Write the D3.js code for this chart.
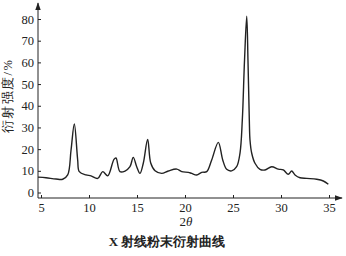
<!DOCTYPE html>
<html>
<head>
<meta charset="utf-8">
<script src="https://cdn.jsdelivr.net/npm/d3@7"></script>
<style>
  body { margin: 0; background: #fff; }
  svg text { font-family: 'Liberation Serif', 'DejaVu Serif', serif; fill: #222; }
</style>
</head>
<body>
<div id="chart"></div>
<script>
// 2θ positions and intensity (%)
const twoTheta = [4.69, 5.52, 6.56, 7.26, 7.78, 8.13, 8.47, 8.82, 8.99, 9.69,
  10.21, 10.91, 11.43, 11.95, 12.6, 12.81, 13.23, 13.75, 14.27, 14.61,
  14.97, 15.31, 15.66, 16.11, 16.43, 16.88, 17.57, 18.26, 19.14, 19.66,
  20.34, 20.7, 21.22, 21.74, 22.26, 22.78, 23.47, 23.93, 24.34, 24.86,
  25.38, 25.73, 25.97, 26.2, 26.43, 26.56, 26.7, 26.77, 26.95, 27.29,
  27.81, 28.33, 29.03, 29.72, 30.24, 30.76, 31.11, 31.46, 31.98, 32.68,
  33.72, 34.41, 34.93];
const intensity = [7.1, 6.8, 6.2, 6.1, 8.1, 19.6, 31.6, 15.0, 9.6, 8.1,
  7.7, 6.5, 9.6, 7.7, 15.3, 15.9, 9.6, 9.9, 11.9, 16.2,
  11.9, 8.8, 13.6, 24.5, 13.6, 10.0, 8.8, 9.9, 10.8, 9.6,
  9.3, 8.8, 8.1, 9.3, 9.6, 15.0, 23.1, 15.0, 10.7, 10.0,
  11.9, 18.2, 33.4, 61, 81.3, 61, 33.4, 24.2, 18.1, 13.5,
  10.7, 10.4, 11.9, 10.8, 10.4, 8.4, 9.9, 8.1, 6.8, 6.5,
  6.1, 5.3, 3.8];
const xTicks = [5, 10, 15, 20, 25, 30, 35];
const yTicks = [0, 10, 20, 30, 40, 50, 60, 70, 80];

const W = 346, H = 256;
const axisX = 38, axisY = 198;

const svg = d3.select('#chart').append('svg')
  .attr('width', W).attr('height', H);

const x = d3.scaleLinear().domain([5, 35]).range([41, 329]);
const y = d3.scaleLinear().domain([0, 80]).range([192.5, 19]);

const data = twoTheta.map((t, i) => ({ t, v: intensity[i] }));

// axis lines with arrows
svg.append('defs').append('marker')
  .attr('id', 'arr')
  .attr('viewBox', '0 0 10 10')
  .attr('refX', 9).attr('refY', 5)
  .attr('markerWidth', 8).attr('markerHeight', 8)
  .attr('markerUnits', 'userSpaceOnUse')
  .attr('orient', 'auto')
  .append('path').attr('d', 'M0,1.5 L10,5 L0,8.5 Z').attr('fill', '#222');

svg.append('line')
  .attr('x1', axisX).attr('y1', axisY).attr('x2', axisX).attr('y2', 3)
  .attr('stroke', '#222').attr('stroke-width', 1)
  .attr('marker-end', 'url(#arr)');
svg.append('line')
  .attr('x1', axisX).attr('y1', axisY).attr('x2', 342).attr('y2', axisY)
  .attr('stroke', '#222').attr('stroke-width', 1)
  .attr('marker-end', 'url(#arr)');

// y ticks (inward)
const yAx = svg.append('g').attr('transform', `translate(${axisX},0)`)
  .call(d3.axisRight(y).tickValues(yTicks).tickSize(3).tickFormat(d3.format('d')));
yAx.select('.domain').remove();
yAx.selectAll('text').attr('text-anchor', 'end').attr('x', -4).attr('font-size', 12.5);
yAx.selectAll('line').attr('stroke', '#222');

// x ticks (upward)
const xAx = svg.append('g').attr('transform', `translate(0,${axisY})`)
  .call(d3.axisTop(x).tickValues(xTicks).tickSize(3).tickFormat(d3.format('d')));
xAx.select('.domain').remove();
xAx.selectAll('text').attr('y', 14).attr('font-size', 12.5);
xAx.selectAll('line').attr('stroke', '#222');

// curve
svg.append('path')
  .datum(data)
  .attr('fill', 'none')
  .attr('stroke', '#222')
  .attr('stroke-width', 1.4)
  .attr('stroke-linejoin', 'round')
  .attr('d', d3.line().x(d => x(d.t)).y(d => y(d.v)).curve(d3.curveCatmullRom.alpha(0.5)));

// labels
svg.append('text')
  .attr('transform', 'translate(12,96) rotate(-90)')
  .attr('text-anchor', 'middle')
  .attr('font-size', 12.5)
  .attr('letter-spacing', 1.5)
  .text('衍射强度/%');

svg.append('text')
  .attr('x', 186).attr('y', 226)
  .attr('text-anchor', 'middle')
  .attr('font-size', 13)
  .html('2<tspan font-style="italic">θ</tspan>');

svg.append('text')
  .attr('x', 167).attr('y', 246)
  .attr('text-anchor', 'middle')
  .attr('font-size', 13)
  .attr('font-weight', 'bold')
  .text('X 射线粉末衍射曲线');
</script>
</body>
</html>
